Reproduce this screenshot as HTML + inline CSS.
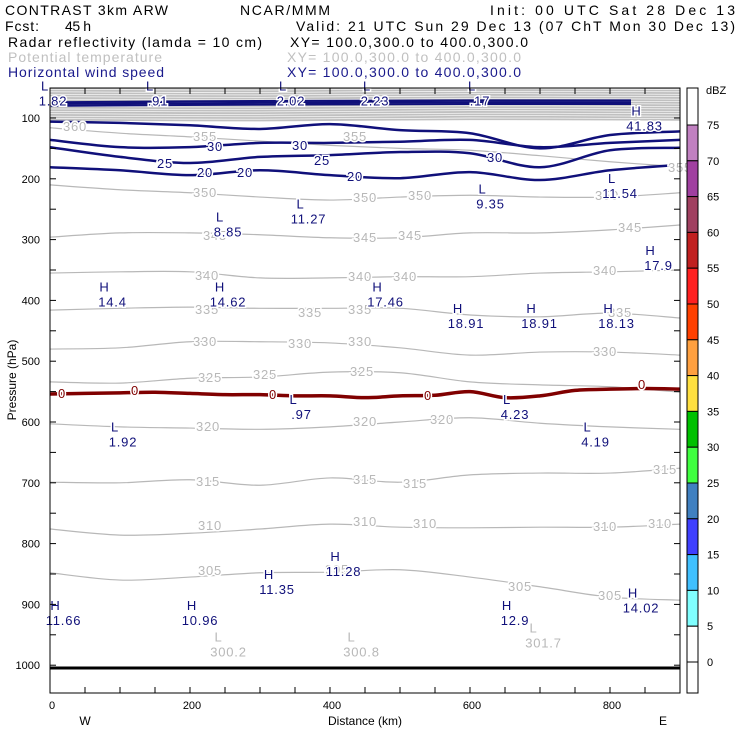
<!DOCTYPE html>
<html><head><meta charset="utf-8">
<style>
html,body{margin:0;padding:0;background:#fff;}
svg{display:block;font-family:"Liberation Sans",sans-serif;}
.hdr{font-size:14px;}
.tk{font-size:11px;fill:#000;}
.cl{font-size:13px;paint-order:stroke;stroke:#fff;stroke-width:3px;letter-spacing:0.8px;}
</style></head>
<body>
<svg id="chart" width="740" height="740" viewBox="0 0 740 740" xmlns="http://www.w3.org/2000/svg">
<rect width="740" height="740" fill="#fff"/>
<g>
<text class="hdr" x="5" y="15" textLength="163">CONTRAST 3km ARW</text>
<text class="hdr" x="240" y="15" textLength="90">NCAR/MMM</text>
<text class="hdr" x="490" y="15" textLength="245">Init: 00 UTC Sat 28 Dec 13</text>
<text class="hdr" x="5" y="31" textLength="34">Fcst:</text>
<text class="hdr" x="65" y="31" textLength="26">45 h</text>
<text class="hdr" x="296" y="31" textLength="439">Valid: 21 UTC Sun 29 Dec 13 (07 ChT Mon 30 Dec 13)</text>
<text class="hdr" x="8" y="47" textLength="254">Radar reflectivity (lamda = 10 cm)</text>
<text class="hdr" x="290" y="47" textLength="238">XY= 100.0,300.0 to 400.0,300.0</text>
<text class="hdr" x="8" y="62" textLength="154" fill="#c0c0c0">Potential temperature</text>
<text class="hdr" x="287" y="62" textLength="234" fill="#c0c0c0">XY= 100.0,300.0 to 400.0,300.0</text>
<text class="hdr" x="8" y="77" textLength="156" fill="#1a1a8c">Horizontal wind speed</text>
<text class="hdr" x="287" y="77" textLength="234" fill="#1a1a8c">XY= 100.0,300.0 to 400.0,300.0</text>
</g>
<g id="plot"></g>
<g id="labels"></g>
<rect x="50" y="88" width="630" height="605" fill="none" stroke="#000" stroke-width="1"/>
<g id="axes"></g>
<g id="cbar"></g>
<text x="16" y="380" font-size="12" transform="rotate(-90 16 380)" text-anchor="middle">Pressure (hPa)</text>
<text x="365" y="725" font-size="12" text-anchor="middle">Distance (km)</text>
<text x="85" y="725" font-size="12" text-anchor="middle">W</text>
<text x="663" y="725" font-size="12" text-anchor="middle">E</text>
</svg>
<script>
// ---- data ----
const kmGrid = [0,100,200,300,400,500,600,700,800,900];
const thetaLevels = [355,350,345,340,335,330,325,320,315,310,305];
const theta355 = [116,125,131,138,145,150,153,162,172,180];
const theta350 = [210,218,223,230,235,230,227,230,230,223];
const theta345 = [296,289,289,292,297,297,289,289,284,276];
const theta340 = [355,353,353,363,363,361,361,355,353,350];
const theta335 = [416,413,411,413,413,413,424,427,421,429];
const theta330 = [480,478,468,468,470,478,490,485,485,490];
const theta325 = [534,536,528,526,518,519,534,539,542,551];
const theta320 = [603,608,610,612,608,600,593,602,608,612];
const theta315 = [699,700,695,704,692,699,687,684,684,676];
const theta310 = [776,786,783,776,768,773,774,773,773,768];
const theta305 = [848,860,855,848,847,843,855,871,888,893];
const stratoLevels = [51,55,59,63,67,71,75,79,83,87,91,95,99,103];
const windLevels = [20,25,30];
const wind20 = [181,186,194,186,194,199,189,202,186,177];
const wind25 = [148,164,174,164,161,156,158,181,153,149];
const wind30 = [136,148,148,141,141,139,136,148,141,136];
const wind35 = [106,108,112,118,110,120,125,150,128,122];
const jetLevels = [72,75,78];
const kmFine = [0,50,100,150,200,250,300,350,400,450,500,550,600,650,700,750,800,850,900];
const refl0 = [554,553,552,551,553,555,555,557,557,560,557,556,550,560,557,548,546,545,546];
const yTicks = [100,200,300,400,500,600,700,800,900,1000];
const xTicks = [0,200,400,600,800];
const dbzLevels = [75,70,65,60,55,50,45,40,35,30,25,20,15,10,5,0];
const dbzColors = ['#c080c0','#a040a0','#a04060','#c02020','#ff2020','#ff4000','#ffa040','#ffe040','#00c000','#40ff40','#4080c0','#4040ff','#40c0ff','#80ffff','#ffffff','#ffffff'];
const hlMarks = [
 ['L','1.82',0,55],['L','.91',150,55],['L','2.02',340,55],['L','2.23',460,55],['L','.17',610,55],
 ['H','41.83',845,96],['L','9.35',625,224],['L','11.54',810,207],['L','11.27',365,249],['L','8.85',250,270],
 ['H','17.9',865,325],['H','14.4',85,385],['H','14.62',250,385],['H','17.46',475,385],['H','18.91',590,421],
 ['H','18.91',695,421],['H','18.13',805,421],['L','.97',355,570],['L','4.23',660,570],['L','1.92',100,616],
 ['L','4.19',775,616],['H','11.28',415,829],['H','11.35',320,858],['H','14.02',840,889],['H','11.66',15,909],
 ['H','10.96',210,909],['H','12.9',660,909]];
const greyMarks = [['L','300.2',255,961],['L','300.8',445,961],['L','301.7',705,946]];

// ---- axes functions ----
const X0=50, X1=680, Y0=88, Y1=693;
const xs = km => X0 + km*0.7;
const ys = p => 118 + (p-100)*0.608;
const NS='http://www.w3.org/2000/svg';
const plot=document.getElementById('plot'), labels=document.getElementById('labels'), axes=document.getElementById('axes'), cbar=document.getElementById('cbar');
function mk(tag, attrs, parent){const e=document.createElementNS(NS,tag);for(const k in attrs)e.setAttribute(k,attrs[k]);parent.appendChild(e);return e;}
function pathFrom(kms, ps){
  const pts=kms.map((k,i)=>[xs(k),ys(ps[i])]);
  let d='M'+pts[0][0]+','+pts[0][1];
  for(let i=0;i<pts.length-1;i++){
    const p0=pts[Math.max(0,i-1)],p1=pts[i],p2=pts[i+1],p3=pts[Math.min(pts.length-1,i+2)];
    d+=' C'+(p1[0]+(p2[0]-p0[0])/6)+','+(p1[1]+(p2[1]-p0[1])/6)+' '+(p2[0]-(p3[0]-p1[0])/6)+','+(p2[1]-(p3[1]-p1[1])/6)+' '+p2[0]+','+p2[1];
  }
  return d;
}
mk('clipPath',{id:'clip'},plot).appendChild(document.createElementNS(NS,'rect'));
const cr=plot.querySelector('#clip rect');cr.setAttribute('x',X0);cr.setAttribute('y',Y0);cr.setAttribute('width',X1-X0);cr.setAttribute('height',Y1-Y0);
const g=mk('g',{'clip-path':'url(#clip)'},plot);

stratoLevels.forEach((p,i)=>{
  const e=mk('path',{d:pathFrom([0,300,600,900],[p,p+1,p-1,p]),fill:'none',stroke:'#c0c0c0','stroke-width':1.8},g);
  
  
});
const thetaSeries=[theta355,theta350,theta345,theta340,theta335,theta330,theta325,theta320,theta315,theta310,theta305];
thetaSeries.forEach((s,i)=>{
  const e=mk('path',{d:pathFrom(kmGrid,s),fill:'none',stroke:'#b8b8b8','stroke-width':1.2},g);
  
  
});
jetLevels.forEach(p=>{
  const e=mk('path',{d:pathFrom([0,300,600,830],[p+2,p,p-1,p-1]),fill:'none',stroke:'#10107a','stroke-width':2},g);
  
  
});
[wind20,wind25,wind30].forEach((s,i)=>{
  const e=mk('path',{d:pathFrom(kmGrid,s),fill:'none',stroke:'#10107a','stroke-width':2.5},g);
  
  
});
{
  const e=mk('path',{d:pathFrom(kmGrid,wind35),fill:'none',stroke:'#10107a','stroke-width':2.5},g);
  
  
}
{
  const e=mk('path',{d:pathFrom(kmFine,refl0),fill:'none',stroke:'#800000','stroke-width':3.5},g);
  
  
}
{
  const e=mk('line',{x1:X0,x2:X1,y1:668,y2:668,stroke:'#000','stroke-width':3},g);
  
  
}

function lab(x,y,t,fill,name,size){
  const e=mk('text',{x:x,y:y,'text-anchor':'middle',class:'cl',fill:fill,'font-size':size||13},labels);
  e.textContent=t;
  
  
}
const gl=[[75,131,'360'],[205,141,'355'],[355,141,'355'],[680,172,'355'],[205,197,'350'],[365,202,'350'],[420,200,'350'],[607,200,'350'],
 [215,240,'345'],[365,242,'345'],[410,240,'345'],[630,232,'345'],[207,280,'340'],[360,281,'340'],[405,281,'340'],[605,275,'340'],
 [207,314,'335'],[310,317,'335'],[360,314,'335'],[620,317,'335'],[205,346,'330'],[300,348,'330'],[360,346,'330'],[605,356,'330'],
 [210,382,'325'],[265,379,'325'],[362,376,'325'],[208,431,'320'],[365,426,'320'],[442,424,'320'],[208,486,'315'],[365,484,'315'],[415,488,'315'],[665,474,'315'],
 [210,530,'310'],[365,526,'310'],[425,528,'310'],[605,531,'310'],[660,528,'310'],[210,575,'305'],[337,574,'305'],[520,591,'305'],[610,600,'305']];
gl.forEach(a=>lab(a[0],a[1],a[2],'#b8b8b8','theta-contour-label'));
const nl=[[215,151,'30'],[300,150,'30'],[495,162,'30'],[165,168,'25'],[322,165,'25'],[205,177,'20'],[245,177,'20'],[355,181,'20']];
nl.forEach(a=>lab(a[0],a[1],a[2],'#10107a','wind-contour-label'));
[[62,398],[135,395],[273,399],[428,400],[642,389]].forEach(a=>lab(a[0],a[1],'0','#800000','reflectivity-contour-label',11));
hlMarks.forEach(m=>{
  const x=xs(m[2]), y=ys(m[3]);
  lab(x-5,y,m[0],'#10107a','wind-extremum-letter');
  lab(x+3,y+15,m[1],'#10107a','wind-extremum-value');
});
greyMarks.forEach(m=>{
  const x=xs(m[2]), y=ys(m[3]);
  lab(x-10,y,m[0],'#b8b8b8','theta-extremum-letter');
  lab(x,y+15,m[1],'#b8b8b8','theta-extremum-value');
});

for(let p=50;p<=1050;p+=50){
  const y=ys(p); if(y<Y0||y>Y1) continue;
  mk('line',{x1:X0,x2:X0+6,y1:y,y2:y,stroke:'#000'},axes);
  mk('line',{x1:X1-6,x2:X1,y1:y,y2:y,stroke:'#000'},axes);
}
yTicks.forEach(p=>{
  const e=mk('text',{x:40,y:ys(p)+4,'text-anchor':'end',class:'tk'},axes);
  e.textContent=String(p);
  
  
});
for(let k=0;k<=900;k+=50){
  const x=xs(k);
  mk('line',{x1:x,x2:x,y1:Y1-6,y2:Y1,stroke:'#000'},axes);
  mk('line',{x1:x,x2:x,y1:Y0,y2:Y0+6,stroke:'#000'},axes);
}
xTicks.forEach(k=>{
  const e=mk('text',{x:xs(k)+2,y:709,'text-anchor':'middle',class:'tk'},axes);
  e.textContent=String(k);
  
  
});

const cbTop=88, cbBot=693, cbX=687, cbW=11, step=35.8, first=125;
{
  const e=mk('rect',{x:cbX,y:cbTop,width:cbW,height:first-cbTop,fill:'#fff',stroke:'#000'},cbar);
  
  
}
dbzLevels.forEach((v,i)=>{
  const y=first+i*step;
  const h=(i===dbzLevels.length-1)?cbBot-y:step;
  const e=mk('rect',{x:cbX,y:y,width:cbW,height:h,fill:dbzColors[i],stroke:'#000'},cbar);
  
  
  const t=mk('text',{x:707,y:y+4,class:'tk','font-size':12},cbar);
  t.textContent=String(v);
  
  
});
{
  const t=mk('text',{x:706,y:94,class:'tk','font-size':12},cbar);
  t.textContent='dBZ';
  
  
}
</script>
</body></html>
